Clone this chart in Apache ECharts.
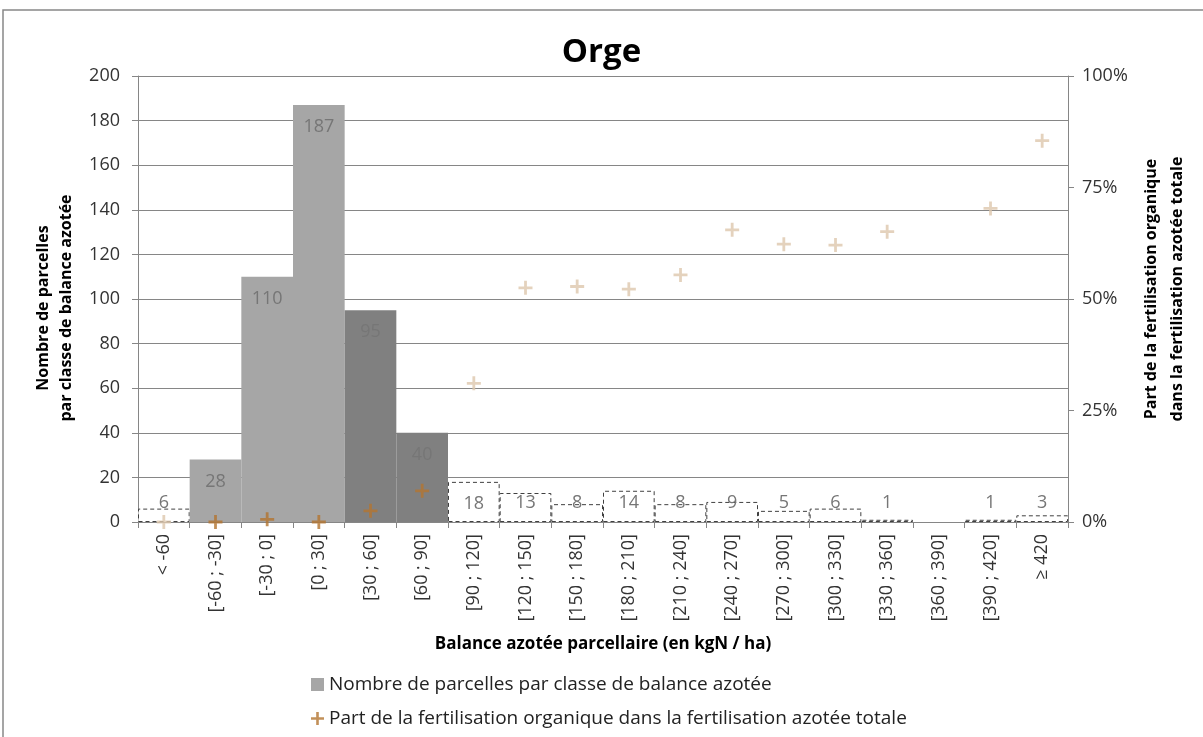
<!DOCTYPE html>
<html>
<head>
<meta charset="utf-8">
<title>Orge</title>
<script src="https://cdn.jsdelivr.net/npm/echarts@6/dist/echarts.min.js"></script>
<style>
  html, body { margin: 0; padding: 0; background: #fff; }
  #chart { width: 1203px; height: 737px; }
</style>
</head>
<body>
<div id="chart"></div>
<script>
// classes de balance azotée
const categories = ['< -60', '[-60 ; -30]', '[-30 ; 0]', '[0 ; 30]', '[30 ; 60]', '[60 ; 90]',
  '[90 ; 120]', '[120 ; 150]', '[150 ; 180]', '[180 ; 210]', '[210 ; 240]', '[240 ; 270]',
  '[270 ; 300]', '[300 ; 330]', '[330 ; 360]', '[360 ; 390]', '[390 ; 420]', '≥ 420']
// nombre de parcelles
const counts = [6, 28, 110, 187, 95, 40, 18, 13, 8, 14, 8, 9, 5, 6, 1, null, 1, 3]
// part de la fertilisation organique (%)
const organicShare = [0, 0, 0.6, 0, 2.5, 7, 31.1, 52.5, 52.8, 52.2, 55.4, 65.5, 62.3, 62.1, 65.1, null, 70.3, 85.5]
const leftTicks = { min: 0, max: 200, interval: 20 }
const rightTicks = { min: 0, max: 100, interval: 25 }

const lightBars = [1, 2, 3]
const darkBars = [4, 5]
const brownPoints = [1, 2, 3, 4, 5]

const FONT = '"Open Sans", "Noto Sans", sans-serif'
const PLUS = 'path://M4,0H6V4H10V6H6V10H4V6H0V4H4Z'

const chart = echarts.init(document.getElementById('chart'))

const barData = counts.map((v, i) => {
  let style
  if (lightBars.includes(i)) style = { color: '#A6A6A6' }
  else if (darkBars.includes(i)) style = { color: '#808080' }
  else style = { color: '#ffffff', borderColor: '#404040', borderWidth: 1, borderType: [4, 3] }
  const big = v >= 18
  return {
    value: v,
    itemStyle: style,
    label: { position: big ? 'insideTop' : 'insideBottom', distance: big ? 13 : 10 }
  }
})

const pointData = organicShare.map((v, i) => ({
  value: v,
  itemStyle: { color: brownPoints.includes(i) ? '#B3742F' : '#DDC7AD' }
}))

chart.setOption({
  animation: false,
  textStyle: { fontFamily: FONT },
  title: {
    text: 'Orge',
    left: 'center',
    top: 31,
    textStyle: { fontSize: 33, fontWeight: 'bold', color: '#000', fontFamily: FONT }
  },
  graphic: [{
    type: 'rect',
    shape: { x: 3, y: 10, width: 1220, height: 740 },
    style: { fill: 'none', stroke: '#888', lineWidth: 1.5 },
    silent: true
  }],
  legend: {
    orient: 'vertical',
    left: 306,
    top: 670,
    itemGap: 15,
    itemWidth: 13,
    itemHeight: 13,
    textStyle: { fontSize: 19, color: '#222', fontFamily: FONT },
    data: [
      { name: 'Nombre de parcelles par classe de balance azotée', icon: 'rect', itemStyle: { color: '#A6A6A6' } },
      { name: 'Part de la fertilisation organique dans la fertilisation azotée totale', icon: PLUS, itemStyle: { color: '#B3742F' } }
    ]
  },
  grid: { left: 138, right: 135, top: 76, bottom: 215 },
  xAxis: {
    type: 'category',
    data: categories,
    name: 'Balance azotée parcellaire (en kgN / ha)',
    nameLocation: 'middle',
    nameGap: 114,
    nameTextStyle: { fontSize: 17, fontWeight: 'bold', color: '#000' },
    axisLine: { lineStyle: { color: '#868686' } },
    axisTick: { show: true, length: 6, lineStyle: { color: '#868686' } },
    axisLabel: { rotate: 90, fontSize: 18, color: '#333', margin: 12, interval: 0 }
  },
  yAxis: [{
    type: 'value',
    min: leftTicks.min,
    max: leftTicks.max,
    interval: leftTicks.interval,
    name: 'Nombre de parcelles\npar classe de balance azotée',
    nameLocation: 'middle',
    nameRotate: 90,
    nameGap: 55,
    nameTextStyle: { fontSize: 16, fontWeight: 'bold', color: '#000', lineHeight: 23, padding: [0, 18, 0, 0] },
    axisLine: { show: true, lineStyle: { color: '#868686' } },
    axisTick: { show: true, length: 6, lineStyle: { color: '#868686' } },
    axisLabel: { fontSize: 18, color: '#333', margin: 18 },
    splitLine: { lineStyle: { color: '#868686' } }
  }, {
    type: 'value',
    min: rightTicks.min,
    max: rightTicks.max,
    interval: rightTicks.interval,
    name: 'Part de la fertilisation organique\ndans la fertilisation azotée totale',
    nameLocation: 'middle',
    nameRotate: 90,
    nameGap: 69,
    nameTextStyle: { fontSize: 16, fontWeight: 'bold', color: '#000', lineHeight: 26, padding: [0, 0, 0, 20] },
    axisLine: { show: true, lineStyle: { color: '#868686' } },
    axisTick: { show: true, length: 6, lineStyle: { color: '#868686' } },
    axisLabel: { fontSize: 18, color: '#333', margin: 14, formatter: '{value}%' },
    splitLine: { show: false }
  }],
  series: [{
    name: 'Nombre de parcelles par classe de balance azotée',
    type: 'bar',
    barCategoryGap: '0%',
    data: barData,
    label: {
      show: true,
      fontSize: 18,
      color: '#767676',
      fontFamily: FONT
    }
  }, {
    name: 'Part de la fertilisation organique dans la fertilisation azotée totale',
    type: 'scatter',
    yAxisIndex: 1,
    symbol: PLUS,
    symbolSize: 14,
    itemStyle: { color: '#B3742F' },
    data: pointData,
    z: 5
  }]
})
</script>
</body>
</html>
